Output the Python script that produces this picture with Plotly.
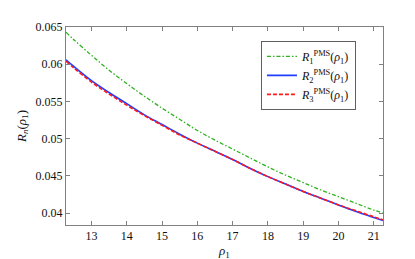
import plotly.graph_objects as go

rho = [12.28, 12.5, 13, 13.5, 14, 14.5, 15, 15.5, 16, 16.5, 17, 17.5, 18, 18.5, 19, 19.5, 20, 20.5, 21, 21.26]
r1 = [0.0643, 0.0633, 0.0612, 0.0592, 0.0574, 0.0557, 0.0541, 0.0526, 0.0511, 0.0498, 0.0486, 0.0474, 0.0462, 0.0451, 0.0441, 0.0431, 0.0422, 0.0413, 0.0404, 0.0400]
r2 = [0.0606, 0.0597, 0.0578, 0.0562, 0.0547, 0.0532, 0.0519, 0.0506, 0.0494, 0.0483, 0.0472, 0.0460, 0.0449, 0.0439, 0.0429, 0.0420, 0.0411, 0.0402, 0.0394, 0.0390]
r3 = [0.0604, 0.0595, 0.0576, 0.0560, 0.0545, 0.0531, 0.0518, 0.0505, 0.0494, 0.0483, 0.0472, 0.0460, 0.0449, 0.0439, 0.0429, 0.0420, 0.0411, 0.0403, 0.0395, 0.0391]

names = ["<i>R</i><sub>1</sub><sup>PMS</sup>(<i>ρ</i><sub>1</sub>)",
         "<i>R</i><sub>2</sub><sup>PMS</sup>(<i>ρ</i><sub>1</sub>)",
         "<i>R</i><sub>3</sub><sup>PMS</sup>(<i>ρ</i><sub>1</sub>)"]

xticks = [13, 14, 15, 16, 17, 18, 19, 20, 21]
yticks = [0.04, 0.045, 0.05, 0.055, 0.06, 0.065]
yticktext = ["0.04", "0.045", "0.05", "0.055", "0.06", "0.065"]

font = "Liberation Serif, Times New Roman, serif"

fig = go.Figure()
fig.add_trace(go.Scatter(x=rho, y=r1, mode="lines", name=names[0], line_shape="spline",
                         line=dict(color="#2db21e", width=1.3, dash="4px,2px,1.5px,2px")))
fig.add_trace(go.Scatter(x=rho, y=r2, mode="lines", name=names[1], line_shape="spline",
                         line=dict(color="#1f3cff", width=1.6)))
fig.add_trace(go.Scatter(x=rho, y=r3, mode="lines", name=names[2], line_shape="spline",
                         line=dict(color="#ff1a1a", width=1.6, dash="4px,2px")))

axis_common = dict(showline=True, linecolor="#808080", linewidth=1, mirror="ticks",
                   ticks="inside", ticklen=4, tickcolor="#808080", showgrid=False,
                   zeroline=False, tickfont=dict(family=font, size=12, color="#111"))

fig.update_xaxes(range=[12.28, 21.26], tickvals=xticks, ticktext=[str(v) for v in xticks],
                 title=dict(text="<i>ρ</i><sub>1</sub>", font=dict(family=font, size=13, color="#111"), standoff=2),
                 **axis_common)
fig.update_yaxes(range=[0.0384, 0.065], tickvals=yticks, ticktext=yticktext,
                 title=dict(text="<i>R</i><sub><i>n</i></sub>(<i>ρ</i><sub>1</sub>)", font=dict(family=font, size=13, color="#111"), standoff=6),
                 **axis_common)

fig.update_layout(
    width=415, height=259,
    margin=dict(l=53, r=40, t=19, b=29),
    paper_bgcolor="white", plot_bgcolor="white",
    font=dict(family=font, size=12, color="#111"),
    showlegend=True,
    legend=dict(x=0.615, y=0.93, xanchor="left", yanchor="top",
                bgcolor="white", bordercolor="#606060", borderwidth=1,
                font=dict(family=font, size=12), itemwidth=30, tracegroupgap=0),
)

fig.write_html("out.html")
